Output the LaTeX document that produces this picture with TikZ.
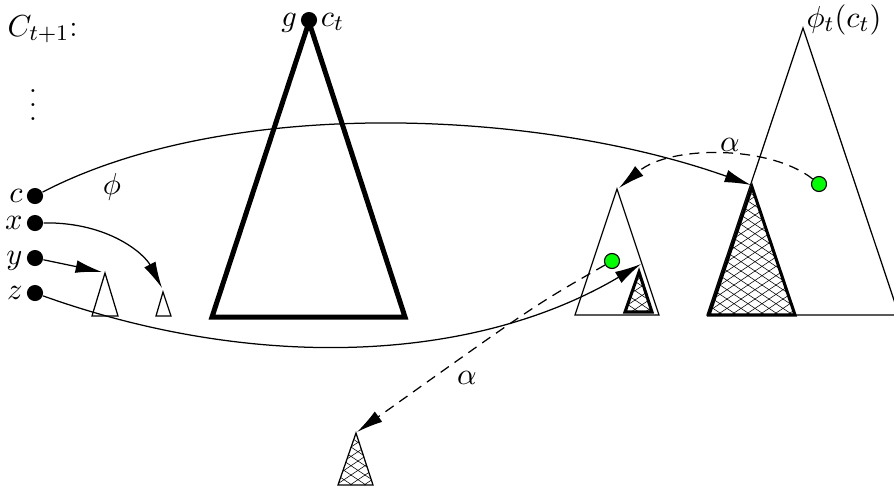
\documentclass[tikz,border=0pt]{standalone}
\usetikzlibrary{arrows.meta,calc}
\newcommand\crossfill[5]{%
  \pgfmathsetmacro\hh{(#4-#3)*1.5}%
  \pgfmathsetmacro\xa{#1-\hh}%
  \pgfmathsetmacro\xn{#1-\hh+#5}%
  \pgfmathsetmacro\xb{#2+\hh}%
  \foreach \xx in {\xa,\xn,...,\xb}{%
    \draw[hatchline] (\xx,#3) -- ++(\hh,#4-#3);
    \draw[hatchline] (\xx,#3) -- ++(-\hh,#4-#3);
  }}
\begin{document}
\begin{tikzpicture}[x=0.36pt,y=-0.36pt,
  font=\fontsize{11}{13}\selectfont,
  dot/.style={circle,fill=black,inner sep=0pt,minimum size=5.8pt},
  gdot/.style={circle,fill=green,draw=black,line width=0.4pt,inner sep=0pt,minimum size=5.4pt},
  tri/.style={line width=0.45pt,line join=miter},
  thicktri/.style={line width=1.8pt,line join=miter},
  hatchtri/.style={line width=1.1pt,line join=miter},
  hatchline/.style={line width=0.2pt},
  arr/.style={line width=0.45pt,-{Latex[length=9.5pt,width=4.6pt]}},
  darr/.style={arr,dash pattern=on 3.6pt off 2.5pt},
  lab/.style={inner sep=0pt}]
\useasboundingbox (0,0) rectangle (894,493);
\clip (0,0) rectangle (894,493);

% labels top
\node[lab,anchor=base west] (Clab) at (7,36) {$C_{t+1}$:};
\node[lab] (vd) at (33,105) {\vbox{\baselineskip=5.2pt\lineskiplimit=0pt\hbox{.}\hbox{.}\hbox{.}}};

% left dots
\node[dot] (c) at (35,196) {};
\node[dot] (x) at (35,223) {};
\node[dot] (y) at (35,258) {};
\node[dot] (z) at (35,293) {};
\foreach \n in {c,x,y,z}
  \node[lab,anchor=base east] (\n lab) at ([xshift=-1.2pt,yshift=-2.3pt]\n.west) {$\n$};

% small triangles
\coordinate (t1a) at (105,273);
\coordinate (t2a) at (163,292);
\draw[tri] (t1a) -- (92,316) -- (118,316) -- cycle;
\draw[tri] (t2a) -- (156,316) -- (171,316) -- cycle;

% big thick triangle
\coordinate (bta) at (309,22);
\draw[thicktri] (bta) -- (212,317) -- (405,317) -- cycle;
\node[dot] (gd) at (309,20) {};
\node[lab,anchor=base east] (glab) at ([xshift=-1pt,yshift=-2.3pt]gd.west) {$g$};
\node[lab,anchor=base west] (ctlab) at ([xshift=1pt,yshift=-2.3pt]gd.east) {$c_t$};

% right big triangle
\coordinate (rta) at (803,28);
\draw[tri] (rta) -- (707,315) -- (899,315) -- cycle;
\node[lab,anchor=base west] (philab) at (806,27) {$\phi_t(c_t)$};

% big hatched triangle
\coordinate (bha) at (752,187);
\begin{scope}
  \clip (bha) -- (709,315) -- (795,315) -- cycle;
  \crossfill{709}{795}{187}{315}{14}
\end{scope}
\draw[hatchtri] (bha) -- (709,315) -- (795,315) -- cycle;

% middle triangle
\coordinate (ma) at (617,189);
\draw[tri] (ma) -- (575,315) -- (659,315) -- cycle;
\coordinate (sha) at (639,272);
\begin{scope}
  \clip (sha) -- (625,312) -- (652,312) -- cycle;
  \crossfill{625}{652}{272}{312}{14}
\end{scope}
\draw[hatchtri] (sha) -- (625,312) -- (652,312) -- cycle;

% bottom hatched triangle
\coordinate (bba) at (356,433);
\begin{scope}
  \clip (bba) -- (338,485) -- (373,485) -- cycle;
  \crossfill{338}{373}{433}{485}{14}
\end{scope}
\draw[tri] (bba) -- (338,485) -- (373,485) -- cycle;

% green dots
\node[gdot] (g1) at (612,261) {};
\node[gdot] (g2) at (819,184) {};

% arrow tips
\coordinate (ctip) at (751,185);
\coordinate (xtip) at (162,288);
\coordinate (ytip) at (102,272);
\coordinate (ztip) at (641,264);
\coordinate (mtip) at (619,188);
\coordinate (btip) at (357,432);

% arrows
\draw[arr] (c) .. controls (230,95) and (540,110) .. (ctip);
\node[lab] (philbl) at (112,187) {$\phi$};
\draw[arr] (x) .. controls (110,222) and (145,255) .. (xtip);
\draw[arr] (y) -- (ytip);
\draw[arr] (z) .. controls (250,370) and (470,365) .. (ztip);
\draw[darr] (g2) .. controls (770,145) and (670,145) .. (mtip);
\node[lab] (al1) at (730,145) {$\alpha$};
\draw[darr] (g1) .. controls (535,305) .. (btip);
\node[lab] (al2) at (467,378) {$\alpha$};
\end{tikzpicture}
\end{document}
